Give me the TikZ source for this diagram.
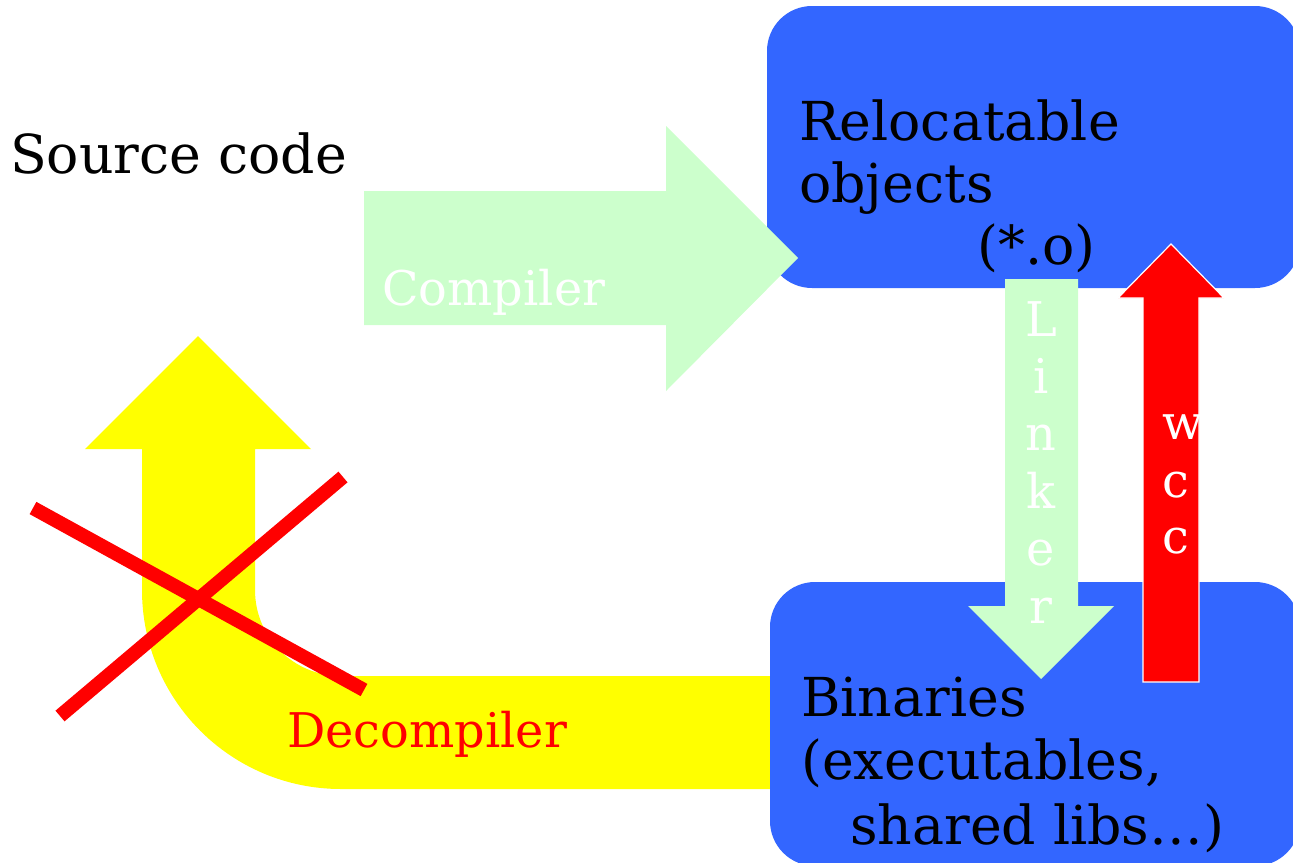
\documentclass[tikz,border=0pt]{standalone}
\usepackage{fontspec}
\setmainfont{DejaVu Serif}
\definecolor{boxblue}{HTML}{3366FF}
\definecolor{paleg}{HTML}{CCFFCC}
\definecolor{yel}{HTML}{FFFF00}
\definecolor{redc}{HTML}{FF0000}
\begin{document}
\begin{tikzpicture}[x=1pt,y=-1pt,
  big/.style={font=\fontsize{53.7}{62}\selectfont, inner sep=0pt, anchor=base west, text=black},
  mid/.style={font=\fontsize{47.8}{57}\selectfont, inner sep=0pt},
  blockbox/.style={fill=boxblue, rounded corners=45pt},
  crossline/.style={draw=redc, line width=14pt},
  ]
\useasboundingbox (0,0) rectangle (1293,862);
\clip (0,0) rectangle (1293,862);

% yellow U-turn arrow (decompiler)
\fill[yel] (85,449) -- (198,336) -- (311,449) -- (255,449) -- (255,590)
  .. controls (255,637.5) and (293.5,676) .. (341,676)
  -- (780,676) -- (780,789) -- (341,789)
  .. controls (231,789) and (142,700) .. (142,590)
  -- (142,449) -- cycle;

% blue boxes
\fill[blockbox] (767,6) rectangle (1300,288);
\fill[blockbox] (770,582) rectangle (1300,866);

% compiler arrow
\fill[paleg] (364,191) -- (666,191) -- (666,126) -- (798,258) -- (666,391) -- (666,325) -- (364,325) -- cycle;

% linker arrow
\fill[paleg] (1005,279) -- (1078,279) -- (1078,606) -- (1114,606) -- (1041,679) -- (968,606) -- (1005,606) -- cycle;

% wcc arrow
\filldraw[fill=redc, draw=white, line width=1.2pt] (1143,682) -- (1143,298) -- (1118,298) -- (1171,244) -- (1224,298) -- (1199,298) -- (1199,682) -- cycle;

% red cross
\draw[crossline] (33,508) -- (364,690);
\draw[crossline] (343,477) -- (60,716);

% texts
\node[big] (src) at (10,173) {Source code};
\node[big] (rel1) at (799,140) {Relocatable};
\node[big] (rel2) at (799,202) {objects};
\node[big] (rel3) at (977,264) {(*.o)};
\node[big] (bin1) at (801,716) {Binaries};
\node[big] (bin2) at (801,779) {(executables,};
\node[big] (bin3) at (850,844) {shared libs…)};
\node[mid, anchor=base west, text=white] (comp) at (382,305) {Compiler};
\node[mid, anchor=base west, text=redc] (decomp) at (287,747) {Decompiler};
\foreach \ch/\yy [count=\i] in {L/336, i/393.4, n/450.8, k/508.2, e/565.6, r/623}
  \node[mid, anchor=base, text=white] (lk\i) at (1041,\yy) {\ch};
\begin{scope}
  \clip (1143,300) rectangle (1199,680);
  \node[mid, anchor=base west, text=white] (wc1) at (1162,439) {w};
  \node[mid, anchor=base west, text=white] (wc2) at (1162,497) {c};
  \node[mid, anchor=base west, text=white] (wc3) at (1162,553) {c};
\end{scope}
\end{tikzpicture}
\end{document}
